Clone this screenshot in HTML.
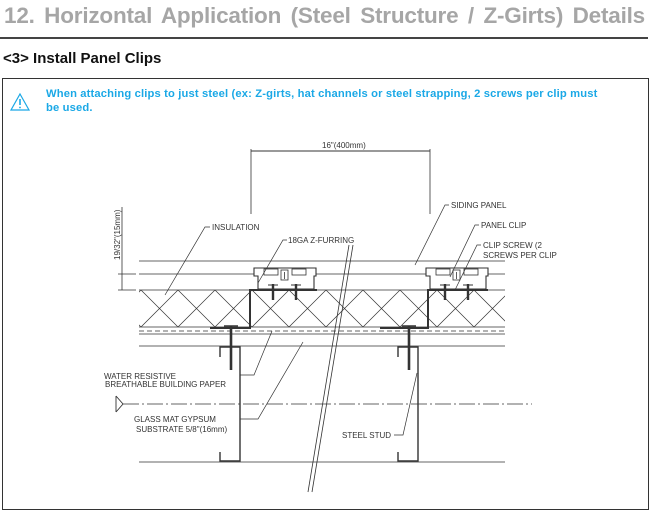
<!DOCTYPE html>
<html><head><meta charset="utf-8"><style>
body{margin:0;width:651px;height:496px;overflow:hidden;background:#fff;font-family:"Liberation Sans",sans-serif;position:relative}
.t{position:absolute;left:4px;top:3px;width:641px;font-size:22.5px;font-weight:bold;color:#a6a6a6;text-align:justify;text-align-last:justify;white-space:nowrap;letter-spacing:-0.2px}
.rule{position:absolute;left:0;top:37px;width:648px;height:2px;background:#444}
.h{position:absolute;left:3px;top:50px;font-size:15px;font-weight:bold;color:#111}
.box{position:absolute;left:2px;top:78px;width:645px;height:430px;border:1px solid #333}
.w{position:absolute;left:46px;top:87px;font-size:11.2px;font-weight:bold;color:#1aa8e6;line-height:14px;width:580px;letter-spacing:0.15px;white-space:nowrap}
svg{position:absolute;left:0;top:0}
text{font-family:"Liberation Sans",sans-serif;font-size:8px;fill:#333}
</style></head><body>
<div class="t">12. Horizontal Application (Steel Structure / Z-Girts) Details</div>
<div class="rule"></div>
<div class="h">&lt;3&gt; Install Panel Clips</div>
<div class="box"></div>
<div class="w">When attaching clips to just steel (ex: Z-girts, hat channels or steel strapping, 2 screws per clip must<br>be used.</div>
<svg width="651" height="496" viewBox="0 0 651 496">
<defs><clipPath id="ins"><rect x="139" y="290" width="366" height="37"/></clipPath></defs>
<path d="M20 94 L29 110 L11 110 Z" fill="none" stroke="#1aa8e6" stroke-width="1.2"/>
<line x1="20" y1="99" x2="20" y2="105" stroke="#1aa8e6" stroke-width="1.6"/>
<circle cx="20" cy="107.5" r="0.9" fill="#1aa8e6"/>
<g stroke="#333" fill="none" stroke-width="0.8">
<line x1="251" y1="151" x2="430" y2="151" stroke-width="1"/>
<line x1="251" y1="149" x2="251" y2="214"/>
<line x1="430" y1="149" x2="430" y2="214"/>
<line x1="122" y1="207" x2="122" y2="290"/>
<line x1="118" y1="274" x2="136" y2="274"/>
<line x1="118" y1="290" x2="136" y2="290"/>
<line x1="139" y1="261" x2="505" y2="261"/>
<line x1="139" y1="274" x2="505" y2="274"/>
<line x1="139" y1="290" x2="505" y2="290"/>
<line x1="139" y1="327" x2="505" y2="327"/>
<line x1="139" y1="331" x2="505" y2="331" stroke-dasharray="5,3"/>
<line x1="139" y1="334" x2="505" y2="334"/>
<line x1="139" y1="346" x2="505" y2="346"/>
<line x1="139" y1="462" x2="505" y2="462"/>
<g clip-path="url(#ins)" stroke-width="0.7">
<path d="M104 290 L141 327 M141 290 L178 327 M178 290 L215 327 M215 290 L252 327 M252 290 L289 327 M289 290 L326 327 M326 290 L363 327 M363 290 L400 327 M400 290 L437 327 M437 290 L474 327 M474 290 L511 327 M141 290 L104 327 M178 290 L141 327 M215 290 L178 327 M252 290 L215 327 M289 290 L252 327 M326 290 L289 327 M363 290 L326 327 M400 290 L363 327 M437 290 L400 327 M474 290 L437 327 M511 290 L474 327 M548 290 L511 327"/>
</g>
<path d="M317 290 L250 290 L250 328 L210 328" stroke-width="2"/>
<path d="M488 290 L428 290 L428 328 L380 328" stroke-width="2"/>
<path d="M254 268 L316 268 L316 276 L314 276 L314 289 L258 289 L258 276 L254 276 Z" stroke-width="1.1" fill="#fff"/>
<rect x="264" y="269" width="14" height="6"/><rect x="292" y="269" width="14" height="6"/>
<rect x="281" y="270" width="7" height="10"/><line x1="284.5" y1="272" x2="284.5" y2="279"/>
<path d="M426 268 L488 268 L488 276 L486 276 L486 289 L430 289 L430 276 L426 276 Z" stroke-width="1.1" fill="#fff"/>
<rect x="436" y="269" width="14" height="6"/><rect x="464" y="269" width="14" height="6"/>
<rect x="453" y="270" width="7" height="10"/><line x1="456.5" y1="272" x2="456.5" y2="279"/>
<g stroke-width="2.4"><line x1="273" y1="284" x2="273" y2="300"/><line x1="296" y1="284" x2="296" y2="300"/><line x1="445" y1="284" x2="445" y2="300"/><line x1="468" y1="284" x2="468" y2="300"/></g>
<g stroke-width="1"><line x1="268" y1="285" x2="278" y2="285"/><line x1="291" y1="285" x2="301" y2="285"/><line x1="440" y1="285" x2="450" y2="285"/><line x1="463" y1="285" x2="473" y2="285"/></g>
<g stroke-width="2.6"><line x1="231" y1="326" x2="231" y2="370"/><line x1="409" y1="326" x2="409" y2="370"/></g>
<line x1="224" y1="326" x2="238" y2="326" stroke-width="1.5"/><line x1="402" y1="326" x2="416" y2="326" stroke-width="1.5"/>
<path d="M220 357 L220 347 L240 347 L240 461 L220 461 L220 452" stroke-width="1.4"/>
<path d="M398 357 L398 347 L418 347 L418 461 L398 461 L398 452" stroke-width="1.4"/>
<line x1="349" y1="245" x2="308" y2="492"/><line x1="353" y1="245" x2="312" y2="492"/>
<line x1="123" y1="404" x2="532" y2="404" stroke-dasharray="16,3,2,3"/>
<path d="M116 396 L116 412 M116 396 L123 404 L116 412" stroke-width="0.9"/>
<g stroke-width="0.7">
<path d="M210 227 L205 227 L165 295"/>
<path d="M287 240 L283 240 L258 283"/>
<path d="M449 205 L445 205 L415 265"/>
<path d="M479 225 L475 225 L450 277"/>
<path d="M481 245 L477 245 L455 290"/>
<path d="M240 375 L254 375 L272 331"/>
<path d="M240 419 L258 419 L303 342"/>
<path d="M394 435 L403 435 L417 373"/>
</g>
</g>
<text x="322" y="148">16"(400mm)</text>
<text transform="translate(120,260) rotate(-90)" font-size="7.5">19/32"(15mm)</text>
<text x="212" y="230">INSULATION</text>
<text x="288" y="243">18GA Z-FURRING</text>
<text x="451" y="208">SIDING PANEL</text>
<text x="481" y="228">PANEL CLIP</text>
<text x="483" y="248">CLIP  SCREW (2</text>
<text x="483" y="258">SCREWS PER CLIP</text>
<text x="104" y="379">WATER RESISTIVE</text>
<text x="105" y="387">BREATHABLE BUILDING PAPER</text>
<text x="134" y="422">GLASS MAT GYPSUM</text>
<text x="136" y="432">SUBSTRATE 5/8"(16mm)</text>
<text x="342" y="438">STEEL STUD</text>
</svg>
</body></html>
